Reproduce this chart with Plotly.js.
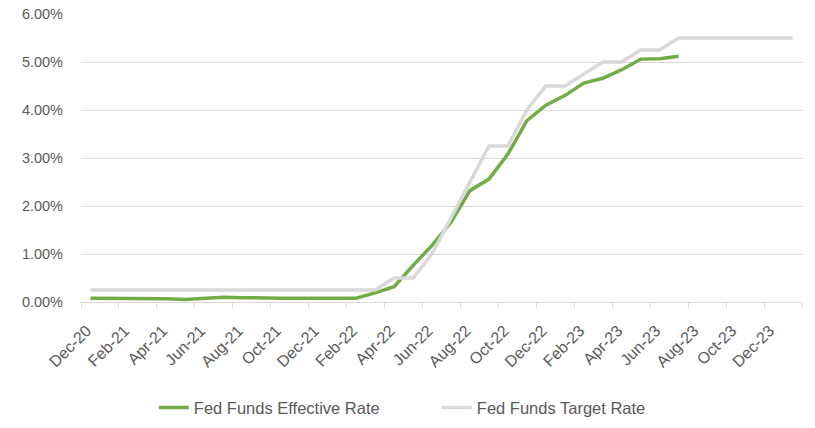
<!DOCTYPE html>
<html>
<head>
<meta charset="utf-8">
<script src="https://cdn.plot.ly/plotly-3.0.1.min.js"></script>
<style>
  html, body { margin: 0; padding: 0; background: #fff; }
  #chart { width: 815px; height: 428px; }
</style>
</head>
<body>
<div id="chart"></div>
<script>
/* -------------------- DATA -------------------- */

const months = [
  'Dec-20', 'Jan-21', 'Feb-21', 'Mar-21', 'Apr-21', 'May-21', 'Jun-21', 'Jul-21',
  'Aug-21', 'Sep-21', 'Oct-21', 'Nov-21', 'Dec-21', 'Jan-22', 'Feb-22', 'Mar-22',
  'Apr-22', 'May-22', 'Jun-22', 'Jul-22', 'Aug-22', 'Sep-22', 'Oct-22', 'Nov-22',
  'Dec-22', 'Jan-23', 'Feb-23', 'Mar-23', 'Apr-23', 'May-23', 'Jun-23', 'Jul-23',
  'Aug-23', 'Sep-23', 'Oct-23', 'Nov-23', 'Dec-23', 'Jan-24'
];

// % values, one per month, Effective stops at Jul-23
const effectiveRate = [
  0.08, 0.08, 0.08, 0.07, 0.07, 0.05, 0.08, 0.10, 0.09, 0.08, 0.08, 0.08,
  0.08, 0.08, 0.08, 0.19, 0.32, 0.76, 1.18, 1.66, 2.32, 2.56, 3.08, 3.78,
  4.10, 4.30, 4.56, 4.66, 4.84, 5.06, 5.07, 5.12
];

const targetRate = [
  0.25, 0.25, 0.25, 0.25, 0.25, 0.25, 0.25, 0.25, 0.25, 0.25, 0.25, 0.25,
  0.25, 0.25, 0.25, 0.25, 0.50, 0.50, 1.00, 1.75, 2.50, 3.25, 3.25, 4.00,
  4.50, 4.50, 4.75, 5.00, 5.00, 5.25, 5.25, 5.50, 5.50, 5.50, 5.50, 5.50,
  5.50, 5.50
];

const seriesNames = ['Fed Funds Effective Rate', 'Fed Funds Target Rate'];

/* -------------------- AXIS HELPERS -------------------- */

const idx = months.map((m, i) => i);
const labelIdx = idx.filter(i => i % 2 === 0 && i < months.length - 1);
const tickText = labelIdx.map(i => months[i]);
// labels sit a little left of the category centre, like the Excel original
const tickVals = labelIdx.map(i => i - 0.2);
const boundaryTicks = [];
for (let b = -0.5; b <= months.length - 0.5; b += 2) boundaryTicks.push(b);

const FONT = 'Liberation Sans, Arial, sans-serif';
const GREY_TXT = '#595959';

/* -------------------- PLOT -------------------- */

const traces = [
  {
    x: idx.slice(0, effectiveRate.length), y: effectiveRate,
    mode: 'lines', name: seriesNames[0],
    line: { color: '#70AD47', width: 3.5 }
  },
  {
    x: idx, y: targetRate,
    mode: 'lines', name: seriesNames[1],
    line: { color: '#D9D9D9', width: 3.5 }
  }
];

const layout = {
  width: 815, height: 428,
  margin: { l: 81, r: 13, t: 14, b: 126 },
  paper_bgcolor: '#fff', plot_bgcolor: '#fff',
  font: { family: FONT, size: 14, color: GREY_TXT },
  showlegend: true,
  legend: {
    orientation: 'h',
    xref: 'container', x: 0.536, xanchor: 'center',
    yref: 'container', y: 0.047, yanchor: 'middle',
    font: { family: FONT, size: 16.5, color: GREY_TXT },
    entrywidth: 238, entrywidthmode: 'pixels', traceorder: 'normal'
  },
  xaxis: {
    type: 'linear', range: [-0.5, months.length - 0.5],
    tickmode: 'array', tickvals: tickVals, ticktext: tickText,
    tickangle: -45, ticks: '', ticklabelstandoff: 12,
    showgrid: false, zeroline: false,
    showline: true, linecolor: '#D9D9D9', linewidth: 1,
    tickfont: { family: FONT, size: 16, color: GREY_TXT },
    minor: { tickmode: 'array', tickvals: boundaryTicks, ticks: 'outside', ticklen: 5, tickcolor: '#D9D9D9', tickwidth: 1, showgrid: false }
  },
  yaxis: {
    range: [0, 6], dtick: 1, tick0: 0,
    tickformat: '.2f', ticksuffix: '%',
    showgrid: true, gridcolor: '#D9D9D9', gridwidth: 1,
    zeroline: false, showline: false, ticks: '', ticklabelstandoff: 17,
    tickfont: { family: FONT, size: 14.5, color: GREY_TXT }
  }
};

Plotly.newPlot('chart', traces, layout, { displayModeBar: false, staticPlot: true });
</script>
</body>
</html>
